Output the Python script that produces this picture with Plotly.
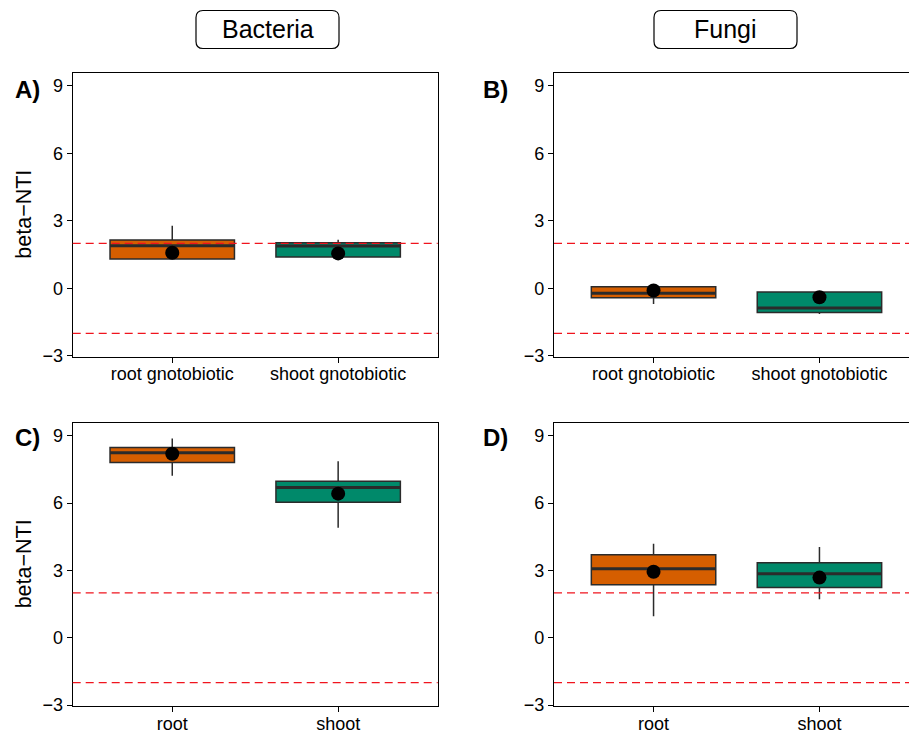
import plotly.graph_objects as go

W, H = 909, 733

# ---------------- data ----------------
labels_gnoto = ["root gnotobiotic", "shoot gnotobiotic"]
labels_plain = ["root", "shoot"]
fill_colors = ["#D55E00", "#00896A"]

# Panel A: Bacteria, gnotobiotic
A_low = [1.30, 1.39]
A_q1 = [1.30, 1.39]
A_med = [1.89, 1.88]
A_q3 = [2.15, 2.02]
A_high = [2.78, 2.16]
A_mean = [1.58, 1.55]

# Panel B: Fungi, gnotobiotic
B_low = [-0.70, -1.14]
B_q1 = [-0.42, -1.08]
B_med = [-0.22, -0.88]
B_q3 = [0.07, -0.16]
B_high = [0.07, -0.16]
B_mean = [-0.10, -0.40]

# Panel C: Bacteria
C_low = [7.22, 4.90]
C_q1 = [7.81, 6.04]
C_med = [8.24, 6.69]
C_q3 = [8.48, 6.97]
C_high = [8.88, 7.86]
C_mean = [8.20, 6.42]

# Panel D: Fungi
D_low = [0.96, 1.71]
D_q1 = [2.36, 2.24]
D_med = [3.07, 2.85]
D_q3 = [3.70, 3.34]
D_high = [4.19, 4.04]
D_mean = [2.94, 2.68]

thresholds = [2, -2]
ytick_vals = [-3, 0, 3, 6, 9]
ytick_text = ["\u22123", "0", "3", "6", "9"]
strip_titles = ["Bacteria", "Fungi"]
panel_tags = ["A)", "B)", "C)", "D)"]
y_title = "beta\u2212NTI"

# ---------------- layout helpers ----------------
def px_x(x):
    return x / W

def px_y(y):
    return 1 - y / H

FONT = "Liberation Sans, Arial, Helvetica, sans-serif"
PX_PER_UNIT = 365 / 2.2
BOX_W = 0.75

panels = [
    dict(name="A", labels=labels_gnoto, low=A_low, q1=A_q1, med=A_med, q3=A_q3, high=A_high, mean=A_mean,
         xpx=(72.7, 437.7), ypx=(72.7, 356.7)),
    dict(name="B", labels=labels_gnoto, low=B_low, q1=B_q1, med=B_med, q3=B_q3, high=B_high, mean=B_mean,
         xpx=(554.0, 909.0), ypx=(72.7, 356.7)),
    dict(name="C", labels=labels_plain, low=C_low, q1=C_q1, med=C_med, q3=C_q3, high=C_high, mean=C_mean,
         xpx=(72.7, 437.7), ypx=(422.7, 706.0)),
    dict(name="D", labels=labels_plain, low=D_low, q1=D_q1, med=D_med, q3=D_q3, high=D_high, mean=D_mean,
         xpx=(554.0, 909.0), ypx=(422.7, 706.0)),
]

fig = go.Figure()
layout = dict(
    width=W, height=H, autosize=False,
    margin=dict(l=0, r=0, t=0, b=0, autoexpand=False),
    paper_bgcolor="white", plot_bgcolor="white",
    showlegend=False,
    font=dict(family=FONT, color="black"),
)

shapes = []
annotations = []

for i, p in enumerate(panels):
    k = "" if i == 0 else str(i + 1)
    xref = "x" + k
    yref = "y" + k
    x0, x1 = p["xpx"]
    y0, y1 = p["ypx"]
    xmax = 0.4 + (x1 - x0) / PX_PER_UNIT
    right_panel = (i % 2 == 1)
    layout["xaxis" + k] = dict(
        domain=[px_x(x0), px_x(x1)], range=[0.4, xmax], anchor=yref,
        tickvals=[1, 2], ticktext=p["labels"],
        showline=True, linecolor="black", linewidth=1.1, mirror=True,
        ticks="outside", ticklen=5, tickwidth=1.1, tickcolor="black",
        ticklabelstandoff=-4,
        showgrid=False, zeroline=False, tickfont=dict(size=18, color="black"),
        fixedrange=True, automargin=False,
    )
    layout["yaxis" + k] = dict(
        domain=[px_y(y1), px_y(y0)], range=[-3.04, 9.58], anchor=xref,
        tickvals=ytick_vals, ticktext=ytick_text,
        showline=True, linecolor="black", linewidth=1.1, mirror=(not right_panel),
        ticks="outside", ticklen=5, tickwidth=1.1, tickcolor="black",
        showgrid=False, zeroline=False, tickfont=dict(size=18, color="black"),
        fixedrange=True, automargin=False,
    )
    for j in range(2):
        pos = j + 1
        fig.add_trace(go.Box(
            x=[pos], q1=[p["q1"][j]], median=[p["med"][j]], q3=[p["q3"][j]],
            lowerfence=[p["low"][j]], upperfence=[p["high"][j]],
            width=BOX_W, whiskerwidth=0,
            fillcolor=fill_colors[j], line=dict(color="#2b2b2b", width=1.5),
            boxpoints=False, xaxis=xref, yaxis=yref, hoverinfo="skip",
        ))
        # thicker median line (ggplot style)
        fig.add_trace(go.Scatter(
            x=[pos - BOX_W / 2, pos + BOX_W / 2], y=[p["med"][j], p["med"][j]],
            mode="lines", line=dict(color="#2b2b2b", width=3),
            xaxis=xref, yaxis=yref, hoverinfo="skip",
        ))
    fig.add_trace(go.Scatter(
        x=[1, 2], y=p["mean"], mode="markers",
        marker=dict(color="black", size=14),
        xaxis=xref, yaxis=yref, hoverinfo="skip",
    ))
    for t in thresholds:
        shapes.append(dict(
            type="line", xref=xref + " domain", yref=yref,
            x0=0, x1=1, y0=t, y1=t, layer="above",
            line=dict(color="#F0141E", width=1.3, dash="8px,5px"),
        ))
    # panel tag
    tag_x = 27 if i % 2 == 0 else 495
    tag_y = 89 if i < 2 else 438
    annotations.append(dict(
        text="<b>" + panel_tags[i] + "</b>", x=px_x(tag_x), y=px_y(tag_y),
        xref="paper", yref="paper", xanchor="center", yanchor="middle",
        showarrow=False, font=dict(size=24, color="black", family=FONT),
    ))
    if i % 2 == 0:
        annotations.append(dict(
            text=y_title, x=px_x(24), y=px_y((y0 + y1) / 2),
            xref="paper", yref="paper", xanchor="center", yanchor="middle",
            textangle=-90, showarrow=False, font=dict(size=21.5, color="black", family=FONT),
        ))

# strip titles with rounded boxes
strip_boxes = [(196, 339), (654, 797)]
for (bx0, bx1), title in zip(strip_boxes, strip_titles):
    by0, by1, r = 10.5, 48.5, 7
    pts = [
        ("M", bx0 + r, by0), ("L", bx1 - r, by0), ("Q", bx1, by0, bx1, by0 + r),
        ("L", bx1, by1 - r), ("Q", bx1, by1, bx1 - r, by1),
        ("L", bx0 + r, by1), ("Q", bx0, by1, bx0, by1 - r),
        ("L", bx0, by0 + r), ("Q", bx0, by0, bx0 + r, by0),
    ]
    path = ""
    for seg in pts:
        cmd = seg[0]
        coords = seg[1:]
        parts = []
        for m in range(0, len(coords), 2):
            parts.append(f"{px_x(coords[m]):.5f},{px_y(coords[m + 1]):.5f}")
        path += cmd + " " + " ".join(parts) + " "
    path += "Z"
    shapes.append(dict(type="path", path=path, xref="paper", yref="paper",
                       line=dict(color="black", width=1.2), fillcolor="white", layer="above"))
    annotations.append(dict(
        text=title, x=px_x((bx0 + bx1) / 2), y=px_y((by0 + by1) / 2),
        xref="paper", yref="paper", xanchor="center", yanchor="middle",
        showarrow=False, font=dict(size=25, color="black", family=FONT),
    ))

layout["shapes"] = shapes
layout["annotations"] = annotations
fig.update_layout(**layout)

fig.write_html("out.html", config={"displayModeBar": False})
